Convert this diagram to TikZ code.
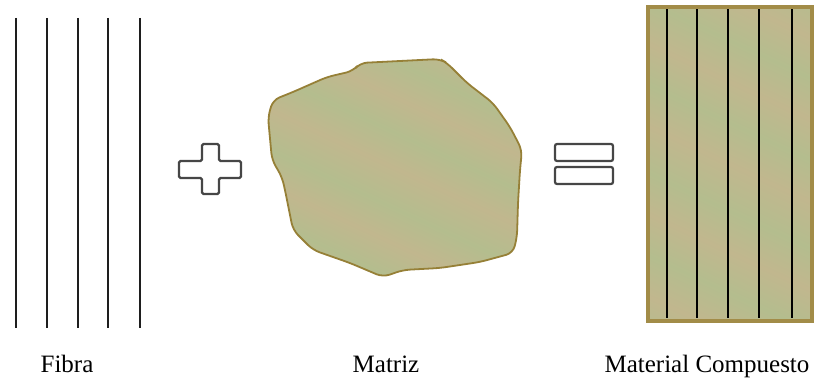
\documentclass[tikz,border=0pt]{standalone}
\usepackage{fontspec}
\setmainfont{Liberation Serif}
\definecolor{fiber}{RGB}{30,30,30}
\definecolor{symb}{RGB}{70,70,70}
\definecolor{matA}{RGB}{180,189,142}
\definecolor{matB}{RGB}{193,183,142}
\definecolor{matEdge}{RGB}{150,128,55}
\definecolor{boxEdge}{RGB}{162,140,72}
\pgfdeclarehorizontalshading{matstripes}{100bp}{%
  color(0bp)=(matA); color(7bp)=(matB); color(14bp)=(matA); color(21bp)=(matB);
  color(28bp)=(matA); color(35bp)=(matB); color(42bp)=(matA); color(50bp)=(matB);
  color(57bp)=(matA); color(64bp)=(matB); color(71bp)=(matA); color(78bp)=(matB);
  color(85bp)=(matA); color(92bp)=(matB); color(100bp)=(matA)}
\tikzset{
  fiberline/.style={draw=fiber, line width=2.8pt},
  symbol/.style={draw=symb, line width=2.2pt, rounded corners=1.5pt, fill=white},
  matrixfill/.style={shading=matstripes, shading angle=65, draw=matEdge, line width=1.8pt},
  label/.style={font=\fontsize{25}{28}\selectfont, anchor=base, inner sep=0pt},
  compfiber/.style={draw=black, line width=1.8pt}
}
\begin{document}
\begin{tikzpicture}[x=1pt,y=1pt]
\useasboundingbox (0,0) rectangle (815,380);
% fibers
\foreach \i/\x in {1/16,2/47,3/78,4/108,5/140}{
  \coordinate (ft\i) at (\x,362);
  \coordinate (fb\i) at (\x,52);
  \draw[fiberline] (ft\i) -- (fb\i);
}
% plus
\draw[symbol] (202,236) -- (219,236) -- (219,219) -- (241,219) -- (241,202) -- (219,202)
  -- (219,186) -- (202,186) -- (202,202) -- (179,202) -- (179,219) -- (202,219) -- cycle;
% matrix blob
\draw[matrixfill, rounded corners=7pt]
  (360,317) -- (440,321) -- (447,317) -- (467,297) -- (493,277) -- (510,253)
  -- (522,230) -- (520,210) -- (518,177) -- (517,143) -- (513,127) -- (480,118)
  -- (440,112) -- (403,110) -- (383,103) -- (350,117) -- (313,130) -- (293,150)
  -- (285,190) -- (282,203) -- (272,220) -- (268,263) -- (273,280) -- (293,288)
  -- (327,303) -- (353,309) -- cycle;
% equals
\draw[symbol, rounded corners=2pt] (555,219) rectangle (613,236);
\draw[symbol, rounded corners=2pt] (555,196) rectangle (613,213);
% composite
\node[draw=boxEdge, line width=3.5pt, shading=matstripes, shading angle=65,
  minimum width=164pt, minimum height=314pt, inner sep=0pt] (comp) at (730,216) {};
\foreach \x in {667,697,728,759,792}{
  \draw[compfiber] (\x,62) -- (\x,371);
}
% labels
\node[label] (lfib) at (67,7) {Fibra};
\node[label] (lmat) at (386,7) {Matriz};
\node[label] (lcomp) at (707,7) {Material Compuesto};
\end{tikzpicture}
\end{document}
